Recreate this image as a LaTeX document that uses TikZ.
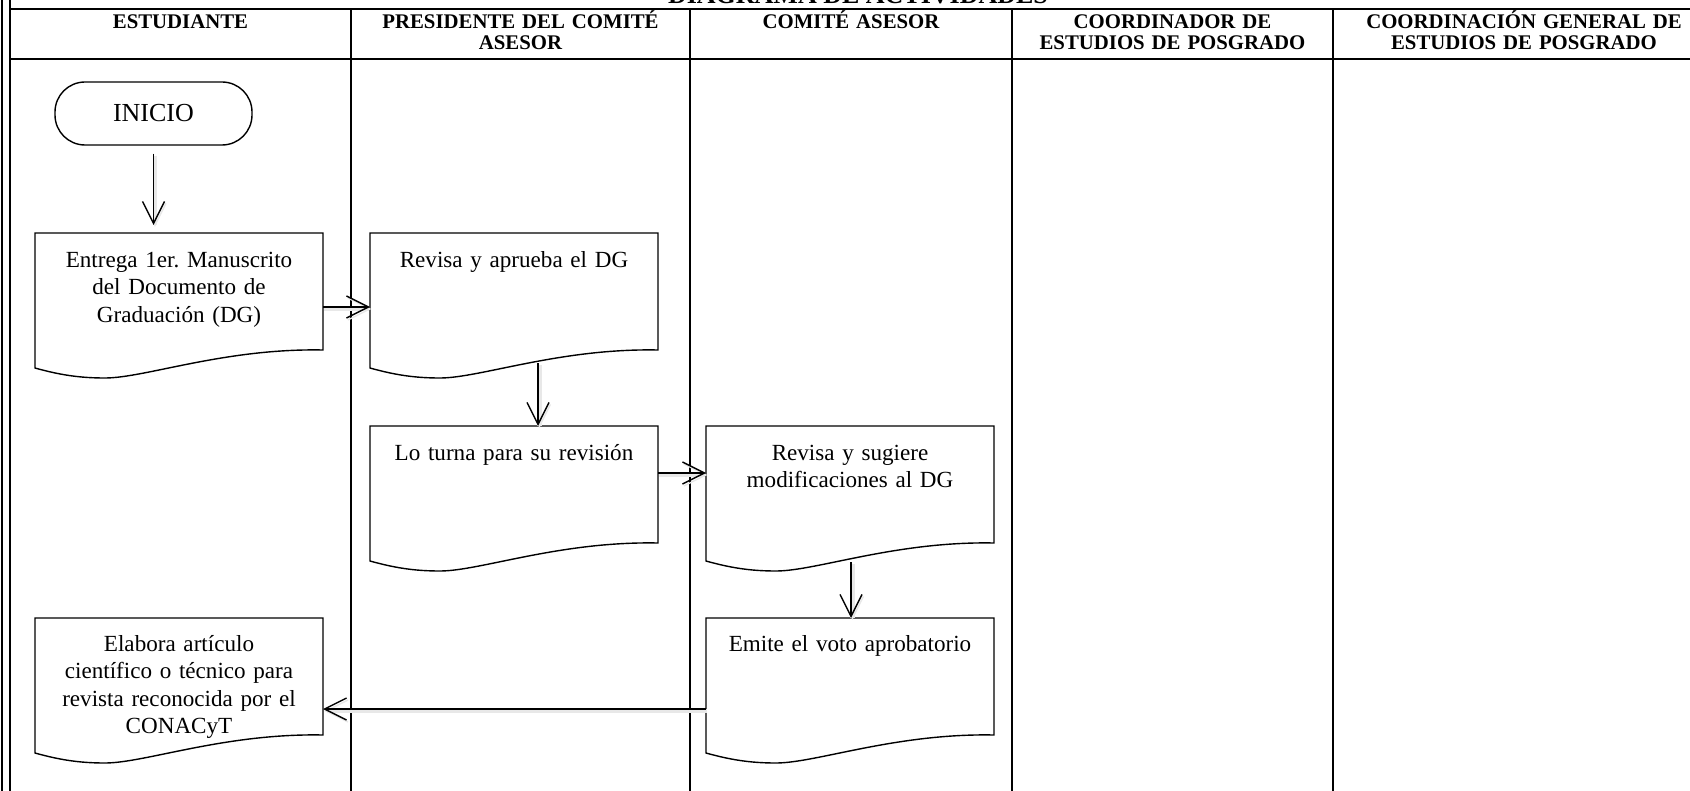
\documentclass[tikz,border=0pt]{standalone}
\usepackage{fontspec}
\setmainfont{Liberation Serif}
\usetikzlibrary{arrows.meta,calc}
\frenchspacing

% Document symbol: straight top and sides, wavy bottom edge
\newcommand\docoutline[1]{%
  \draw[shapeline, shift={(#1.south west)}]
    (#1.north west) -- (#1.north east) -- (#1.south east)
    .. controls (190,-2) and (110,28) .. (70,28)
    .. controls (45,28) and (25,25) .. (0,18) -- cycle;}

\tikzset{
  rule/.style={line width=1pt},
  shapeline/.style={line width=0.7pt, line join=miter},
  docframe/.style={rectangle, inner sep=0pt, outer sep=0pt,
    minimum width=144pt, minimum height=58.5pt, anchor=north west},
  doctext/.style={anchor=base, align=center, text width=142pt, inner sep=0pt,
    font=\fontsize{11.55}{13.75}\selectfont},
  head/.style={anchor=base, align=center, text width=165pt, inner sep=0pt,
    font=\bfseries\fontsize{10.4}{10.2}\selectfont},
  flow/.style={line width=0.7pt,
    -{Straight Barb[length=11pt,width=11pt,line width=0.7pt]},
    preaction={draw=black!9, line width=2.2pt,
      transform canvas={shift={(0.7pt,-1pt)}}}},
  terminal/.style={draw, line width=0.7pt, rounded corners=15pt,
    minimum width=98.5pt, minimum height=31.5pt, inner sep=0pt,
    font=\fontsize{13}{15}\selectfont},
}

\begin{document}
\begin{tikzpicture}[x=0.5pt, y=-0.5pt]
\useasboundingbox (0,0) rectangle (1690,791);

% title, partly above the page edge
\node[anchor=base, inner sep=0pt, font=\bfseries\fontsize{13}{15}\selectfont]
  (title) at (858,4) {DIAGRAMA DE ACTIVIDADES};

% table frame and swimlanes
\draw[rule] (1.5,-20) -- (1.5,820);
\draw[rule] (10,-20) -- (10,820);
\draw[rule] (10,9) -- (1730,9);
\draw[rule] (10,59) -- (1730,59);
\foreach \lx in {351,690,1012,1333} {
  \draw[rule] (\lx,9) -- (\lx,820);
}

% lane headings
\node[head] (h1) at (180.5,29) {ESTUDIANTE};
\node[head] (h2) at (520.5,29) {PRESIDENTE DEL COMITÉ\\ASESOR};
\node[head] (h3) at (851,29) {COMITÉ ASESOR};
\node[head] (h4) at (1172.5,29) {COORDINADOR DE\\ESTUDIOS DE POSGRADO};
\node[head] (h5) at (1524,29) {COORDINACIÓN GENERAL DE\\ESTUDIOS DE POSGRADO};

% start terminal
\node[terminal] (start) at (153.5,113.5) {INICIO};

% document boxes
\node[docframe] (d1) at (35,233) {};
\node[docframe] (d2) at (370,233) {};
\node[docframe] (d3) at (370,426) {};
\node[docframe] (d4) at (706,426) {};
\node[docframe] (d5) at (706,618) {};
\node[docframe] (d6) at (35,618) {};
\foreach \d in {d1,d2,d3,d4,d5,d6} {
  \docoutline{\d}
}

\node[doctext] (t1) at ($(d1.north)+(0,34)$)
  {Entrega 1er. Manuscrito\\del Documento de\\Graduación (DG)};
\node[doctext] (t2) at ($(d2.north)+(0,34)$) {Revisa y aprueba el DG};
\node[doctext] (t3) at ($(d3.north)+(0,34)$) {Lo turna para su revisión};
\node[doctext] (t4) at ($(d4.north)+(0,34)$)
  {Revisa y sugiere\\modificaciones al DG};
\node[doctext] (t5) at ($(d5.north)+(0,33)$) {Emite el voto aprobatorio};
\node[doctext] (t6) at ($(d6.north)+(0,33)$)
  {Elabora artículo\\científico o técnico para\\revista reconocida por el\\CONACyT};

% connectors
\draw[flow, shorten >=4pt] ([yshift=-4pt]start.south) -- (start.south |- d1.north);
\draw[flow] ([yshift=-7.75pt]d1.east) -- ([yshift=-7.75pt]d2.west);
\draw[flow] ([xshift=12pt,yshift=-6.5pt]d2.south) -- ([xshift=12pt]d3.north);
\draw[flow] ([yshift=5.75pt]d3.east) -- ([yshift=5.75pt]d4.west);
\draw[flow] ([xshift=0.5pt,yshift=-9.5pt]d4.south) -- ([xshift=0.5pt]d5.north);
\draw[flow] ([yshift=-16.25pt]d5.west) -- ([yshift=-16.25pt]d6.east);
\end{tikzpicture}
\end{document}
